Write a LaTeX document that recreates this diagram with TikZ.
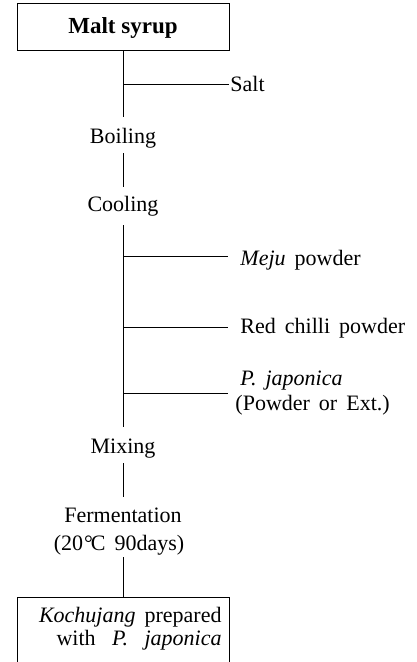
\documentclass[tikz,border=0pt]{standalone}
\usepackage{fontspec}
\setmainfont{Liberation Serif}
\newcommand{\flowfont}{\fontsize{22}{23}\selectfont\spaceskip=9pt plus 2pt minus 1pt\relax}
\begin{document}
\begin{tikzpicture}[x=1pt, y=-1pt, line width=0.9pt,
  lbl/.style={font=\flowfont, inner sep=0pt},
  stage/.style={lbl, anchor=base, text height=26pt, text depth=10pt},
  box/.style={draw, rectangle, minimum width=212pt, inner sep=0pt},
  branch/.style={line width=0.8pt},
  add/.style={lbl, anchor=base west}]
\useasboundingbox (0,0) rectangle (416,662);

% process boxes
\node[box, minimum height=47pt, font=\bfseries\fontsize{23}{24}\selectfont,
      text height=16.5pt, text depth=3.5pt] (malt) at (123,26.5) {Malt syrup};
\node[box, anchor=north, minimum height=67pt] (prod) at (123,597) {};
\node[lbl, anchor=base east] (prodA) at (222,622) {\textit{Kochujang} prepared};
\node[lbl, anchor=base east] (prodB) at (222,645) {\makebox[165pt][s]{with \textit{P. japonica}}};

% process stages on the main line
\node[stage] (boil) at (123,143) {Boiling};
\node[stage, text height=24pt, text depth=14pt] (cool) at (123,211) {Cooling};
\node[stage] (mix) at (123,453) {Mixing};
\node[stage, text height=25pt, text depth=5pt] (ferm) at (123,522) {Fermentation};
\node[stage, text height=12pt, text depth=7pt] (temp) at (119,550) {(20\kern1pt°\kern-2pt C 90days)};

% main line
\draw (malt) -- (boil);
\draw (boil) -- (cool);
\draw (cool) -- (mix);
\draw (mix) -- (ferm);
\draw (prod.north |- temp.south) -- (prod.north);

% ingredients added along the way
\coordinate (saltA) at (123,84);  \coordinate (saltB) at (229,84);
\coordinate (mejuA) at (123,256); \coordinate (mejuB) at (228,256);
\coordinate (chilA) at (123,327); \coordinate (chilB) at (228,327);
\coordinate (japA)  at (123,393); \coordinate (japB)  at (228,393);
\draw[branch] (saltA) -- (saltB);
\draw[branch] (mejuA) -- (mejuB);
\draw[branch] (chilA) -- (chilB);
\draw[branch] (japA) -- (japB);

\node[add] (salt) at (230,91) {Salt};
\node[add] (meju) at (240,265) {\textit{Meju} powder};
\node[add] (chil) at (240,333) {Red chilli powder};
\node[add] (jap)  at (240,385) {\textit{P. japonica}};
\node[add] (japx) at (235,410) {(Powder or Ext.)};
\end{tikzpicture}
\end{document}
